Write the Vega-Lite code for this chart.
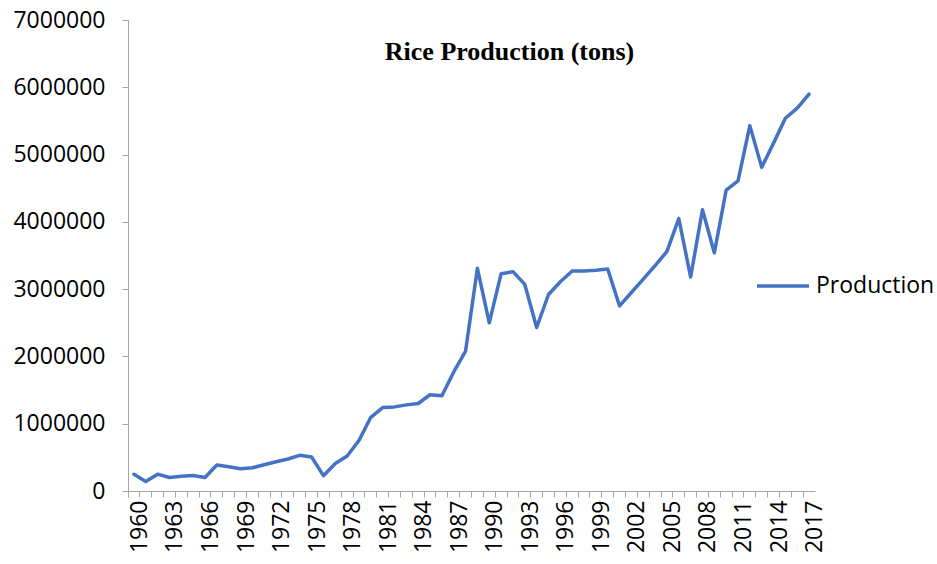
{
  "$schema": "https://vega.github.io/schema/vega-lite/v6.json",
  "width": 687,
  "height": 471,
  "autosize": "none",
  "padding": {"left": 128, "top": 20, "right": 122, "bottom": 73},
  "background": "white",
  "config": {"view": {"stroke": null}, "font": "Open Sans"},
  "title": {
    "text": "Rice Production (tons)",
    "font": "Liberation Serif",
    "fontSize": 26,
    "fontWeight": "bold",
    "color": "black",
    "anchor": "middle",
    "frame": "group",
    "offset": -56,
    "dx": 38
  },
  "data": {
    "values": [
      {"year": 1960, "production": 248000},
      {"year": 1961, "production": 140000},
      {"year": 1962, "production": 250000},
      {"year": 1963, "production": 200000},
      {"year": 1964, "production": 220000},
      {"year": 1965, "production": 230000},
      {"year": 1966, "production": 200000},
      {"year": 1967, "production": 386000},
      {"year": 1968, "production": 360000},
      {"year": 1969, "production": 330000},
      {"year": 1970, "production": 345000},
      {"year": 1971, "production": 390000},
      {"year": 1972, "production": 435000},
      {"year": 1973, "production": 475000},
      {"year": 1974, "production": 530000},
      {"year": 1975, "production": 505000},
      {"year": 1976, "production": 228000},
      {"year": 1977, "production": 410000},
      {"year": 1978, "production": 520000},
      {"year": 1979, "production": 750000},
      {"year": 1980, "production": 1095000},
      {"year": 1981, "production": 1240000},
      {"year": 1982, "production": 1250000},
      {"year": 1983, "production": 1280000},
      {"year": 1984, "production": 1300000},
      {"year": 1985, "production": 1430000},
      {"year": 1986, "production": 1415000},
      {"year": 1987, "production": 1770000},
      {"year": 1988, "production": 2080000},
      {"year": 1989, "production": 3310000},
      {"year": 1990, "production": 2500000},
      {"year": 1991, "production": 3230000},
      {"year": 1992, "production": 3260000},
      {"year": 1993, "production": 3070000},
      {"year": 1994, "production": 2430000},
      {"year": 1995, "production": 2920000},
      {"year": 1996, "production": 3110000},
      {"year": 1997, "production": 3270000},
      {"year": 1998, "production": 3270000},
      {"year": 1999, "production": 3280000},
      {"year": 2000, "production": 3300000},
      {"year": 2001, "production": 2750000},
      {"year": 2002, "production": 2950000},
      {"year": 2003, "production": 3150000},
      {"year": 2004, "production": 3350000},
      {"year": 2005, "production": 3560000},
      {"year": 2006, "production": 4050000},
      {"year": 2007, "production": 3180000},
      {"year": 2008, "production": 4180000},
      {"year": 2009, "production": 3540000},
      {"year": 2010, "production": 4470000},
      {"year": 2011, "production": 4610000},
      {"year": 2012, "production": 5430000},
      {"year": 2013, "production": 4810000},
      {"year": 2014, "production": 5170000},
      {"year": 2015, "production": 5540000},
      {"year": 2016, "production": 5690000},
      {"year": 2017, "production": 5900000}
    ]
  },
  "mark": {"type": "line", "strokeWidth": 3.5, "strokeJoin": "round", "strokeCap": "round"},
  "encoding": {
    "x": {
      "field": "year",
      "type": "ordinal",
      "bandPosition": 0.5,
      "scale": {"type": "band", "paddingInner": 0, "paddingOuter": 0},
      "axis": {
        "title": null,
        "grid": false,
        "labelAngle": -90,
        "labelAlign": "right",
        "labelBaseline": "middle",
        "labelFont": "Open Sans",
        "labelFontSize": 23,
        "labelColor": "black",
        "labelPadding": 3,
        "labelOverlap": false,
        "tickSize": 6,
        "tickColor": "#A6A6A6",
        "domainColor": "#A6A6A6",
        "bandPosition": 0,
        "labelOffset": 6,
        "labelExpr": "(datum.value - 1960) % 3 == 0 ? datum.label : ''"
      }
    },
    "y": {
      "field": "production",
      "type": "quantitative",
      "scale": {"domain": [0, 7000000], "nice": false},
      "axis": {
        "title": null,
        "grid": false,
        "values": [0, 1000000, 2000000, 3000000, 4000000, 5000000, 6000000, 7000000],
        "format": "d",
        "labelFont": "Open Sans",
        "labelFontSize": 23,
        "labelColor": "black",
        "labelPadding": 17,
        "tickSize": 6,
        "tickColor": "#A6A6A6",
        "domainColor": "#A6A6A6"
      }
    },
    "color": {
      "datum": "Production",
      "type": "nominal",
      "scale": {"range": ["#4472C4"]},
      "legend": {
        "title": null,
        "orient": "none",
        "legendX": 627,
        "legendY": 238,
        "padding": 0,
        "symbolType": "stroke",
        "symbolSize": 2704,
        "symbolStrokeWidth": 3.5,
        "labelFont": "Open Sans",
        "labelFontSize": 23,
        "labelColor": "black",
        "labelOffset": 5
      }
    }
  }
}
